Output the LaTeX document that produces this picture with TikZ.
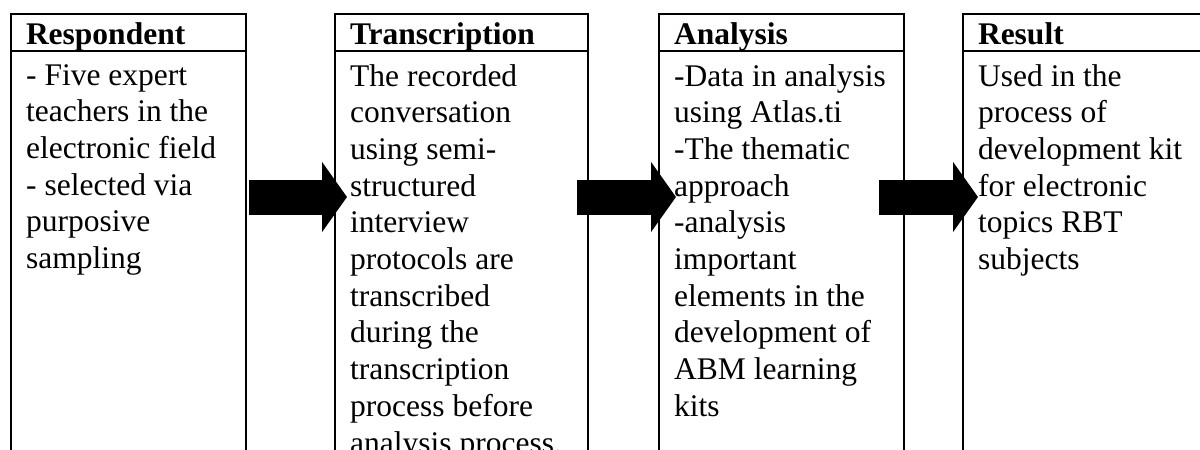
\documentclass[tikz,border=0pt]{standalone}
\usepackage{fontspec}
\setmainfont{Liberation Serif}
\usetikzlibrary{%
	calc,%
	arrows.meta,%
	positioning,%
}
\newcommand{\bodyfont}{\fontsize{31.5pt}{36.7pt}\selectfont}
\tikzset{
	x=1pt,%
	y=1pt,%
	head/.style={%
			draw,%
			rectangle,%
			line width=2pt,%
			outer sep=0pt,%
			inner xsep=15pt,%
			inner ysep=0pt,%
			text height=30pt,%
			text depth=7pt,%
			align=left,%
			font={\bodyfont\bfseries}},%
	body/.style={%
			anchor=north west,%
			inner xsep=15pt,%
			inner ysep=13pt,%
			align=left,%
			font=\bodyfont,%
			execute at begin node=\strut},%
	colline/.style={%
			line width=2pt},%
	flow/.style={%
			line width=35pt,%
			-{Triangle[width=69pt,length=25pt]}},%
}

\begin{document}
\begin{tikzpicture}
	\useasboundingbox (0,0) rectangle (1200,-450);
	\coordinate (floor) at (0,-470);

	\node[head, text width=205pt, anchor=north west] (resp) at (11,-14) {Respondent};
	\node[head, text width=223pt, right=89pt of resp.north east, anchor=north west] (trans) {Transcription};
	\node[head, text width=215pt, right=71pt of trans.north east, anchor=north west] (anly) {Analysis};
	\node[head, text width=215pt, right=59pt of anly.north east, anchor=north west] (rslt) {Result};

	\node[body] (respb) at (resp.south west) {- Five expert\\
		teachers in the\\
		electronic field\\
		- selected via\\
		purposive\\
		sampling};
	\node[body] (transb) at (trans.south west) {The recorded\\
		conversation\\
		using semi-\\
		structured\\
		interview\\
		protocols are\\
		transcribed\\
		during the\\
		transcription\\
		process before\\
		analysis process.};
	\node[body] (anlyb) at (anly.south west) {-Data in analysis\\
		using Atlas.ti\\
		-The thematic\\
		approach\\
		-analysis\\
		important\\
		elements in the\\
		development of\\
		ABM learning\\
		kits};
	\node[body] (rsltb) at (rslt.south west) {Used in the\\
		process of\\
		development kit\\
		for electronic\\
		topics RBT\\
		subjects};

	\draw[colline] (resp.south west) -- (resp.south west |- floor);
	\draw[colline] (resp.south east) -- (resp.south east |- floor);
	\draw[colline] (trans.south west) -- (trans.south west |- floor);
	\draw[colline] (trans.south east) -- (trans.south east |- floor);
	\draw[colline] (anly.south west) -- (anly.south west |- floor);
	\draw[colline] (anly.south east) -- (anly.south east |- floor);
	\draw[colline] (rslt.south west) -- (rslt.south west |- floor);
	\draw[colline] (rslt.south east) -- (rslt.south east |- floor);

	\draw[flow] ($(resp.south east)+(3,-146)$) -- ($(trans.south west)+(12,-146)$);
	\draw[flow] ($(trans.south east)+(-11,-146)$) -- ($(anly.south west)+(17,-146)$);
	\draw[flow] ($(anly.south east)+(-25,-146)$) -- ($(rslt.south west)+(15,-146)$);
\end{tikzpicture}
\end{document}
